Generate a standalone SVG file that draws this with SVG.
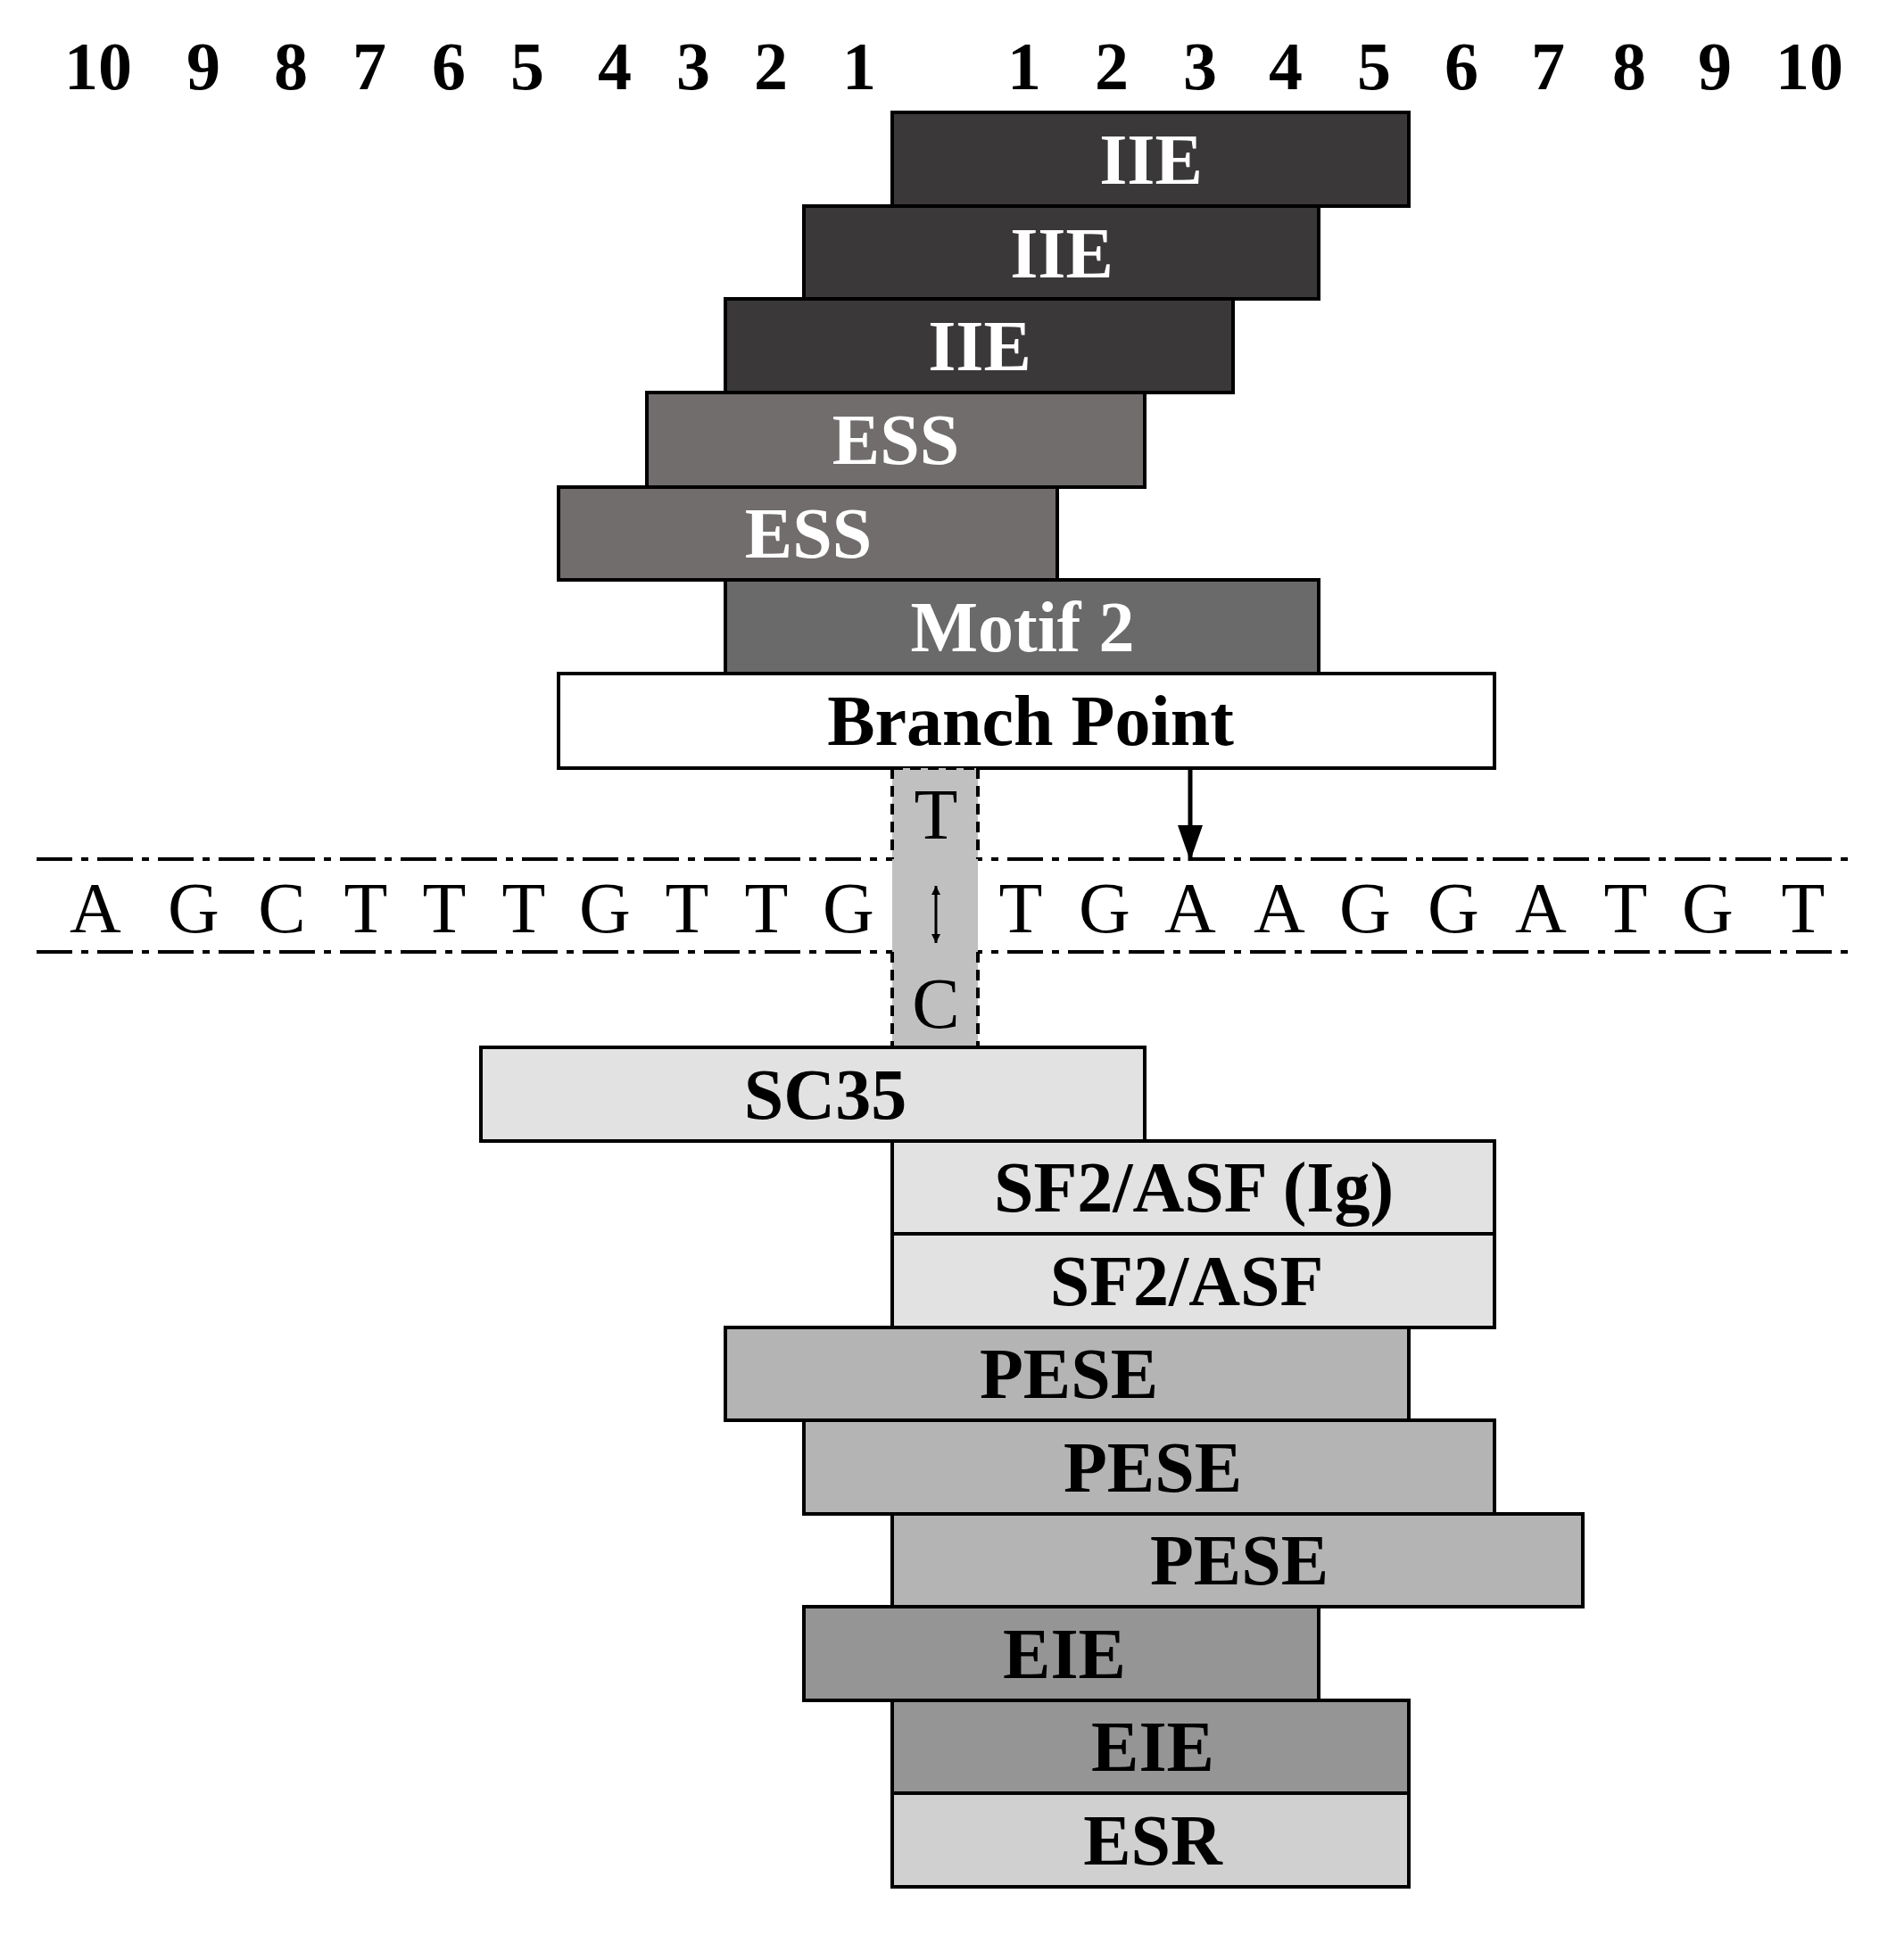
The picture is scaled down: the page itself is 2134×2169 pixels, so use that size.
<svg xmlns="http://www.w3.org/2000/svg" width="2134" height="2169" viewBox="0 0 2134 2169">
<style>
.b{stroke:#000;stroke-width:4}
.lw{font-family:"Liberation Serif",serif;font-weight:bold;font-size:80px;fill:#fff;text-anchor:middle}
.lb{font-family:"Liberation Serif",serif;font-weight:bold;font-size:80px;fill:#000;text-anchor:middle}
.num{font-family:"Liberation Serif",serif;font-weight:bold;font-size:76px;fill:#000;text-anchor:middle}
.seq{font-family:"Liberation Serif",serif;font-size:80px;fill:#000;text-anchor:middle}
.d1{fill:#3a3839}.d2{fill:#716d6d}.d3{fill:#6a6a6a}.l1{fill:#e2e2e2}.l2{fill:#b4b4b4}.l3{fill:#959595}.l4{fill:#d0d0d0}
</style>
<defs><marker id="ah" viewBox="0 0 10 10" refX="10" refY="5" markerWidth="10" markerHeight="10" markerUnits="userSpaceOnUse" orient="auto"><path d="M0,0L10,5L0,10z" fill="#000"/></marker>
<marker id="big" viewBox="0 0 10 10" refX="10" refY="5" markerWidth="40" markerHeight="40" markerUnits="userSpaceOnUse" orient="auto"><path d="M0,1.5L10,5L0,8.5z" fill="#000"/></marker></defs>
<g id="numbers" class="num">
<text x="110" y="100">10</text><text x="228" y="100">9</text><text x="326" y="100">8</text><text x="414" y="100">7</text><text x="503" y="100">6</text><text x="591" y="100">5</text><text x="689" y="100">4</text><text x="777" y="100">3</text><text x="864" y="100">2</text><text x="963" y="100">1</text>
<text x="1148" y="100">1</text><text x="1246" y="100">2</text><text x="1345" y="100">3</text><text x="1441" y="100">4</text><text x="1540" y="100">5</text><text x="1638" y="100">6</text><text x="1735" y="100">7</text><text x="1826" y="100">8</text><text x="1922" y="100">9</text><text x="2028" y="100">10</text>
</g>
<g id="n1"><rect class="b d1" x="1000" y="126" width="579" height="105"/><text class="lw" x="1290" y="206">IIE</text></g>
<g id="n2"><rect class="b d1" x="901" y="231" width="577" height="104"/><text class="lw" x="1190" y="311">IIE</text></g>
<g id="n3"><rect class="b d1" x="813" y="335" width="569" height="105"/><text class="lw" x="1098" y="415">IIE</text></g>
<g id="n4"><rect class="b d2" x="725" y="440" width="558" height="106"/><text class="lw" x="1004" y="520">ESS</text></g>
<g id="n5"><rect class="b d2" x="626" y="546" width="559" height="104"/><text class="lw" x="906" y="625">ESS</text></g>
<g id="n6"><rect class="b d3" x="813" y="650" width="665" height="105"/><text class="lw" x="1146" y="730">Motif 2</text></g>
<g id="n7"><rect class="b" fill="#fff" x="626" y="755" width="1049" height="106"/><text class="lb" x="1155" y="835">Branch Point</text></g>
<g id="sequence">
<line x1="41" y1="963" x2="2079" y2="963" stroke="#000" stroke-width="4" stroke-dasharray="40 10 8 10"/>
<line x1="41" y1="1067" x2="2079" y2="1067" stroke="#000" stroke-width="4" stroke-dasharray="40 10 8 10"/>
<g class="seq">
<text x="107" y="1045">A</text><text x="217" y="1045">G</text><text x="316" y="1045">C</text><text x="410" y="1045">T</text><text x="498" y="1045">T</text><text x="587" y="1045">T</text><text x="678" y="1045">G</text><text x="770" y="1045">T</text><text x="859" y="1045">T</text><text x="951" y="1045">G</text>
<text x="1144" y="1045">T</text><text x="1238" y="1045">G</text><text x="1334" y="1045">A</text><text x="1434" y="1045">A</text><text x="1530" y="1045">G</text><text x="1629" y="1045">G</text><text x="1727" y="1045">A</text><text x="1822" y="1045">T</text><text x="1914" y="1045">G</text><text x="2021" y="1045">T</text>
</g>
</g>
<g id="mutation">
<rect x="1000" y="861" width="96" height="313" fill="#c0c0c0"/>
<path d="M1000,861V963M1096,861V963M1000,1067V1174M1096,1067V1174M1000,861H1096" stroke="#000" stroke-width="4" stroke-dasharray="12 8" fill="none"/>
<text class="seq" x="1049" y="940">T</text>
<text class="seq" x="1049" y="1152">C</text>
</g>
<g id="connectors">
<line x1="1049" y1="1025" x2="1049" y2="993" stroke="#000" stroke-width="3" marker-end="url(#ah)"/>
<line x1="1049" y1="1025" x2="1049" y2="1057" stroke="#000" stroke-width="3" marker-end="url(#ah)"/>
<line x1="1334" y1="861" x2="1334" y2="965" stroke="#000" stroke-width="5" marker-end="url(#big)"/>
</g>
<g id="n8"><rect class="b l1" x="539" y="1174" width="744" height="105"/><text class="lb" x="925" y="1254">SC35</text></g>
<g id="n9"><rect class="b l1" x="1000" y="1279" width="675" height="104"/><text class="lb" x="1338" y="1358">SF2/ASF (Ig)</text></g>
<g id="n10"><rect class="b l1" x="1000" y="1383" width="675" height="105"/><text class="lb" x="1330" y="1463">SF2/ASF</text></g>
<g id="n11"><rect class="b l2" x="813" y="1488" width="766" height="104"/><text class="lb" x="1198" y="1567">PESE</text></g>
<g id="n12"><rect class="b l2" x="901" y="1592" width="774" height="105"/><text class="lb" x="1292" y="1672">PESE</text></g>
<g id="n13"><rect class="b l2" x="1000" y="1697" width="774" height="104"/><text class="lb" x="1389" y="1776">PESE</text></g>
<g id="n14"><rect class="b l3" x="901" y="1801" width="577" height="105"/><text class="lb" x="1193" y="1881">EIE</text></g>
<g id="n15"><rect class="b l3" x="1000" y="1906" width="579" height="104"/><text class="lb" x="1292" y="1985">EIE</text></g>
<g id="n16"><rect class="b l4" x="1000" y="2010" width="579" height="105"/><text class="lb" x="1292" y="2090">ESR</text></g>
</svg>
